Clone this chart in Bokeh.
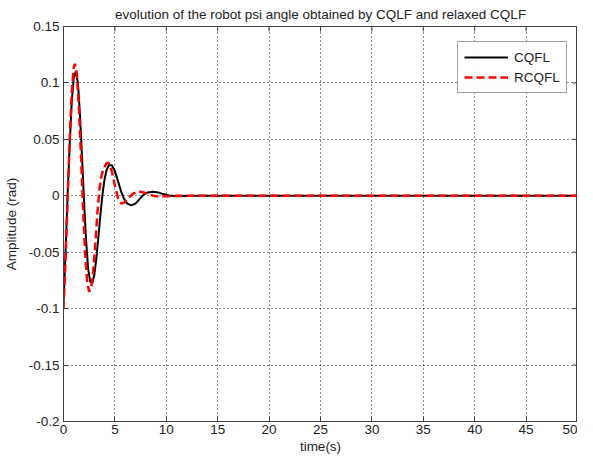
import math
from bokeh.plotting import figure
from bokeh.models import FixedTicker, Legend, LegendItem, Range1d, ColumnDataSource
from bokeh.embed import file_html
from bokeh.resources import INLINE

# ---- data ----
t_cqfl = [0, 0.2, 0.4, 0.6, 0.8, 1.0, 1.2, 1.4, 1.6, 1.8, 2.0, 2.2, 2.4, 2.6, 2.8,
          3.0, 3.2, 3.4, 3.6, 3.8, 4.0, 4.2, 4.4, 4.7, 5.0, 5.3, 5.6, 5.9, 6.2, 6.6,
          7.0, 7.4, 7.8, 8.2, 8.7, 9.2, 9.7, 10.3, 11.0, 12.0, 13.0, 20.0, 30.0, 40.0, 50.0]
y_cqfl = [-0.095, -0.05, 0.0, 0.045, 0.083, 0.105, 0.110, 0.100, 0.072, 0.035, -0.005,
          -0.040, -0.065, -0.076, -0.0775, -0.070, -0.055, -0.036, -0.016, 0.002, 0.015,
          0.023, 0.027, 0.027, 0.022, 0.013, 0.004, -0.003, -0.007, -0.0085, -0.007,
          -0.003, 0.001, 0.003, 0.0035, 0.003, 0.0015, 0.0003, -0.0004, -0.0002, 0.0,
          0.0, 0.0, 0.0, 0.0]

t_rcqfl = [0, 0.2, 0.4, 0.6, 0.8, 1.0, 1.1, 1.3, 1.5, 1.7, 1.9, 2.1, 2.3, 2.5, 2.7,
           2.9, 3.1, 3.3, 3.5, 3.7, 3.9, 4.2, 4.4, 4.7, 5.0, 5.3, 5.6, 5.9, 6.3, 6.8,
           7.3, 7.8, 8.3, 9.0, 10.0, 11.0, 20.0, 30.0, 40.0, 50.0]
y_rcqfl = [-0.1, -0.055, -0.003, 0.05, 0.092, 0.114, 0.117, 0.108, 0.078, 0.036, -0.010,
           -0.050, -0.076, -0.085, -0.082, -0.066, -0.042, -0.015, 0.006, 0.018, 0.024,
           0.029, 0.029, 0.022, 0.009, -0.002, -0.007, -0.006, -0.002, 0.002, 0.004,
           0.003, 0.001, -0.0005, -0.0005, 0.0, 0.0, 0.0, 0.0, 0.0]

x_ticks = [0, 5, 10, 15, 20, 25, 30, 35, 40, 45, 50]
y_ticks = [-0.2, -0.15, -0.1, -0.05, 0, 0.05, 0.1, 0.15]
y_tick_labels = ["-0.2", "-0.15", "-0.1", "-0.05", "0", "0.05", "0.1", "0.15"]
series_names = ["CQFL", "RCQFL"]
title_text = "evolution of the robot psi angle obtained by CQLF and relaxed CQLF"
x_label = "time(s)"
y_label = "Amplitude (rad)"

X_MIN, X_MAX = 0, 50
Y_MIN, Y_MAX = -0.2, 0.15

FONT = "Liberation Sans"
FS = "13.5px"
AXC = "#404040"
TXT = "#222222"

p = figure(width=577, height=456, output_backend="svg", toolbar_location=None,
           x_range=Range1d(X_MIN, X_MAX), y_range=Range1d(Y_MIN, Y_MAX),
           min_border_left=59, min_border_right=0, min_border_top=25,
           min_border_bottom=31, title=title_text)
p.background_fill_color = "white"
p.border_fill_color = "white"
p.outline_line_color = AXC
p.outline_line_width = 1

p.title.align = "center"
p.title.text_font = FONT
p.title.text_font_size = FS
p.title.text_font_style = "normal"
p.title.text_color = TXT
p.title.standoff = 9

y_over = {v: s for v, s in zip(y_ticks, y_tick_labels)}

for ax in p.xaxis:
    ax.ticker = FixedTicker(ticks=x_ticks)
for ax in p.yaxis:
    ax.ticker = FixedTicker(ticks=y_ticks)
    ax.major_label_overrides = y_over

for ax in list(p.xaxis) + list(p.yaxis):
    ax.major_tick_in = 5
    ax.major_tick_out = 0
    ax.minor_tick_line_color = None
    ax.axis_line_color = AXC
    ax.major_tick_line_color = AXC
    ax.major_label_text_font = FONT
    ax.major_label_text_font_size = FS
    ax.major_label_text_color = TXT
    ax.axis_label_text_font = FONT
    ax.axis_label_text_font_size = FS
    ax.axis_label_text_font_style = "normal"
    ax.axis_label_text_color = TXT
    ax.major_label_standoff = 3
    ax.axis_label_standoff = 2

p.xaxis.axis_label = x_label
p.yaxis.axis_label = y_label
p.yaxis.major_label_standoff = 4
p.yaxis.axis_label_standoff = 7

for g in [p.xgrid, p.ygrid]:
    g.grid_line_color = "#000000"
    g.grid_line_dash = "1 3"
    g.grid_line_alpha = 0.9
p.xgrid.ticker = FixedTicker(ticks=x_ticks)
p.ygrid.ticker = FixedTicker(ticks=y_ticks)

# inward tick marks on the top and right edges of the box
p.ray(x=x_ticks, y=[Y_MAX] * len(x_ticks), length=5, length_units="screen",
      angle=-math.pi / 2, line_color=AXC, line_width=1)
p.ray(x=[X_MAX] * len(y_ticks), y=y_ticks, length=5, length_units="screen",
      angle=math.pi, line_color=AXC, line_width=1)

src1 = ColumnDataSource(dict(t=t_cqfl, y=y_cqfl))
src2 = ColumnDataSource(dict(t=t_rcqfl, y=y_rcqfl))
r1 = p.line("t", "y", source=src1, line_color="black", line_width=2)
r2 = p.line("t", "y", source=src2, line_color="red", line_width=2.5, line_dash="8 4")

legend = Legend(items=[LegendItem(label=series_names[0], renderers=[r1]),
                       LegendItem(label=series_names[1], renderers=[r2])],
                location=(394, 328))
legend.glyph_width = 44
legend.glyph_height = 18
legend.label_height = 18
legend.label_standoff = 6
legend.padding = 6
legend.spacing = 2
legend.margin = 0
legend.border_line_color = AXC
legend.border_line_width = 1
legend.label_text_font = FONT
legend.label_text_font_size = FS
legend.label_text_color = TXT
p.add_layout(legend, "center")

open("out.html", "w").write(file_html(p, INLINE))
